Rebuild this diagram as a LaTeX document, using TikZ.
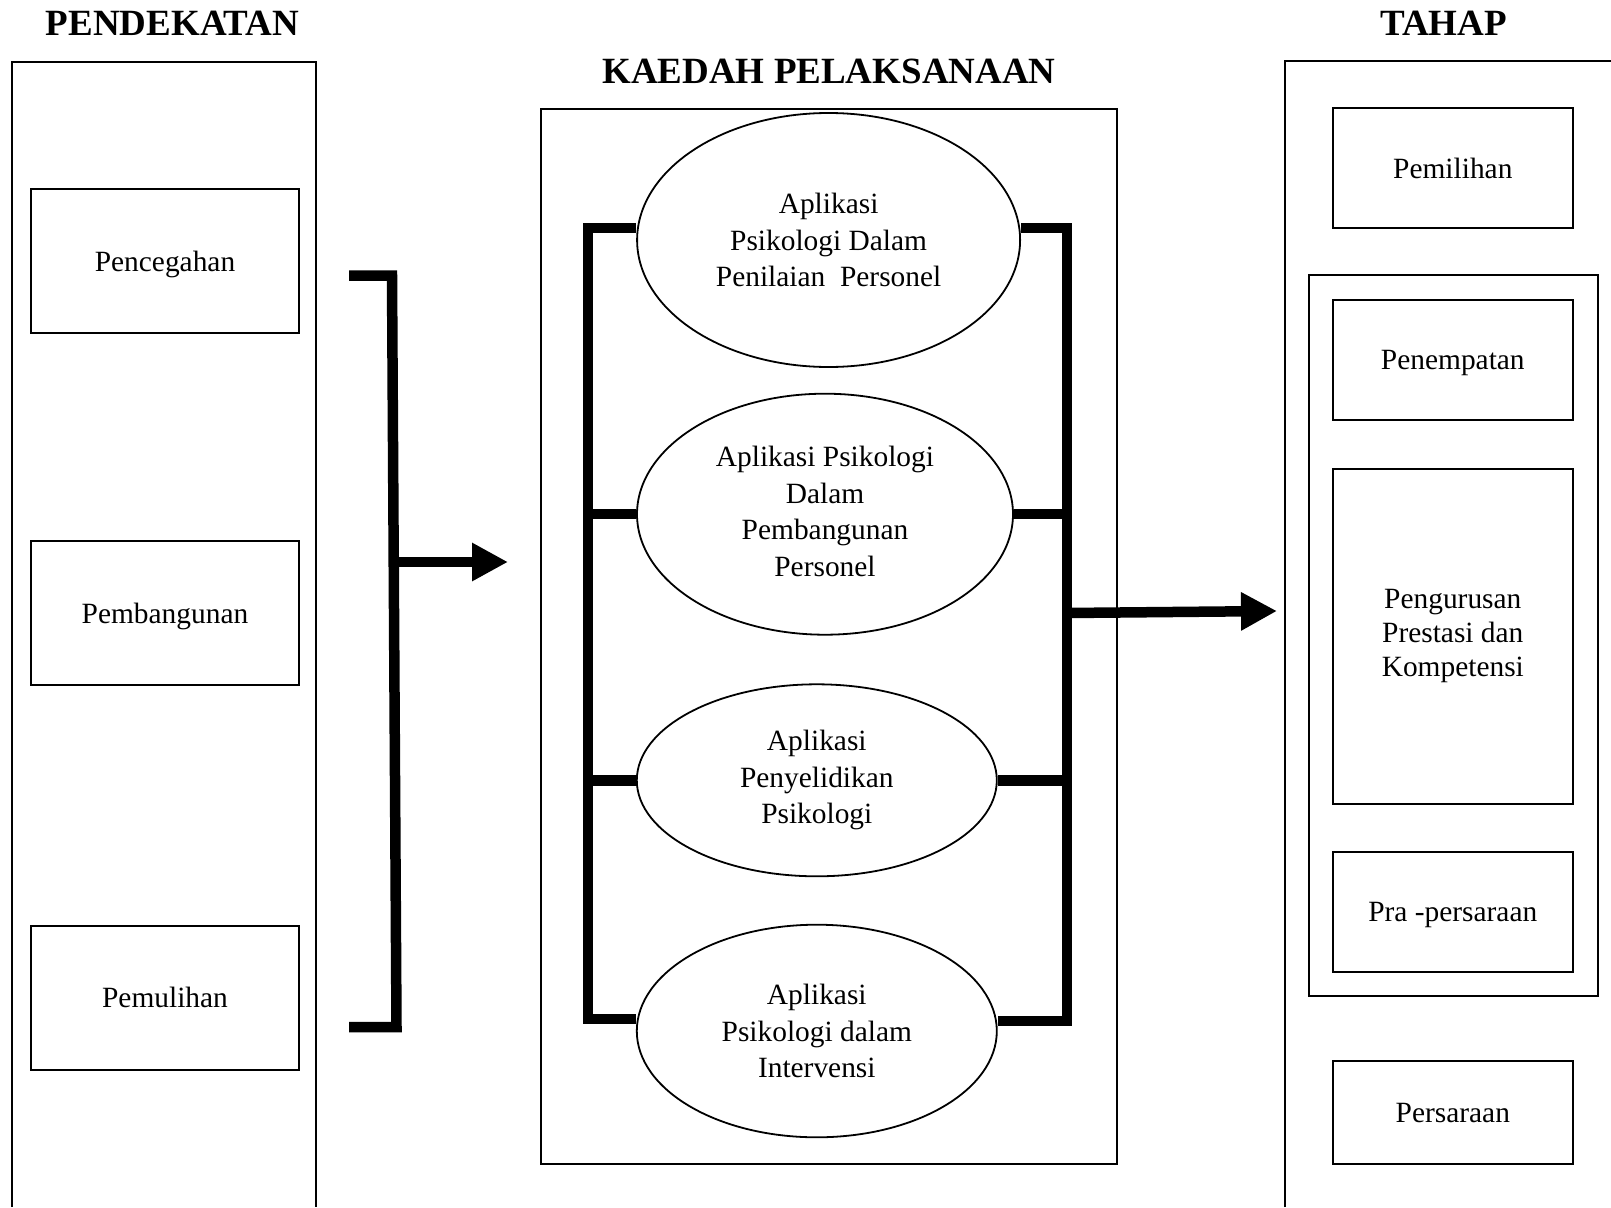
\documentclass[tikz,border=0pt]{standalone}
\usepackage{fontspec}
\setmainfont{Liberation Serif}
\usetikzlibrary{shapes.geometric}
\usetikzlibrary{arrows.meta}

\begin{document}
\begin{tikzpicture}[x=1pt, y=-1pt,
    every node/.style={inner sep=0pt, align=center},
    judul/.style={font=\fontsize{37}{44}\selectfont\bfseries},
    kotak/.style={draw, line width=2pt, minimum width=268pt, minimum height=144pt, text depth=0pt, font=\fontsize{29.4}{34}\selectfont},
    tahap/.style={draw, line width=2pt, minimum width=240.5pt, minimum height=120pt, text depth=0pt, font=\fontsize{29.4}{34}\selectfont},
    bujur/.style={draw, ellipse, line width=1.8pt, font=\fontsize{29.4}{36.5}\selectfont},
    bingkai/.style={line width=2pt},
    kurungan/.style={line width=10.5pt, line join=miter},
    anak/.style={kurungan, -{Triangle[length=36pt, width=36pt]}}]
            \useasboundingbox (0,0) rectangle (1611,1207);

            % Tajuk
            \node[judul] (tPendekatan) at (172.6,23.6) {PENDEKATAN};
            \node[judul] (tKaedah) at (829,71) {KAEDAH PELAKSANAAN};
            \node[judul] (tTahap) at (1443.5,23.6) {TAHAP};

            % Bingkai
            \draw[bingkai] (12.3,1207) -- (12.3,61.6) -- (316.4,61.6) -- (316.4,1207);
            \draw[bingkai] (541.4,108.9) rectangle (1116.8,1164);
            \draw[bingkai] (1285,1207) -- (1285,60.6) -- (1611,60.6);
            \draw[bingkai] (1309,275.3) rectangle (1597.5,995.6);

            % Pendekatan
            \node[kotak] (pencegahan) at (165,261) {Pencegahan};
            \node[kotak] (pembangunan) at (165,613.3) {Pembangunan};
            \node[kotak] (pemulihan) at (165,997.6) {Pemulihan};

            % Kaedah pelaksanaan
            \node[bujur, minimum width=383pt, minimum height=254pt] (e1) at (828.6,240) {Aplikasi\\Psikologi Dalam\\Penilaian\ \ Personel};
            \node[bujur, minimum width=376pt, minimum height=241pt, text depth=6pt] (e2) at (825,514.2) {Aplikasi Psikologi\\Dalam\\Pembangunan\\Personel};
            \node[bujur, minimum width=360pt, minimum height=192pt] (e3) at (816.8,780.3) {Aplikasi\\Penyelidikan\\Psikologi};
            \node[bujur, minimum width=360pt, minimum height=212.6pt] (e4) at (816.8,1031) {Aplikasi\\Psikologi dalam\\Intervensi};

            % Tahap
            \node[tahap] (pemilihan) at (1452.8,168) {Pemilihan};
            \node[tahap] (penempatan) at (1452.8,360.1) {Penempatan};
            \node[tahap, minimum height=335pt, text depth=] (pengurusan) at (1452.8,636) {Pengurusan\\Prestasi dan\\Kompetensi};
            \node[tahap] (prapersaraan) at (1452.8,911.8) {Pra -persaraan};
            \node[tahap, minimum height=102.7pt] (persaraan) at (1452.8,1112.6) {Persaraan};

            % Kurungan kiri
            \coordinate (k1) at (349,275.5);
            \coordinate (k2) at (392,275.5);
            \coordinate (k3) at (396.5,1027);
            \coordinate (k4) at (349,1027);
            \coordinate (kM) at (394,562);
            \coordinate (masuk) at (508,562);
            \draw[kurungan] (k1) -- (k2) -- (k3) -- (k4);
            \draw[anak] (kM) -- (masuk);

            % Kurungan tengah
            \coordinate (ka) at (588,228);
            \coordinate (kb) at (588,1019);
            \draw[kurungan] ([yshift=12pt]e1.west) -- (ka) -- (kb) -- (e4.west |- kb);
            \draw[kurungan] (e2.west) -- (e2.west -| ka);
            \draw[kurungan] (e3.west) -- (e3.west -| ka);

            \coordinate (kc) at (1067,228);
            \coordinate (kd) at (1067,1021);
            \coordinate (kR) at (1067,613);
            \coordinate (keluar) at (1277,611);
            \draw[kurungan] ([yshift=12pt]e1.east) -- (kc) -- (kd) -- (e4.east |- kd);
            \draw[kurungan] (e2.east) -- (e2.east -| kc);
            \draw[kurungan] (e3.east) -- (e3.east -| kc);
            \draw[anak] (kR) -- (keluar);
          \end{tikzpicture}
\end{document}
